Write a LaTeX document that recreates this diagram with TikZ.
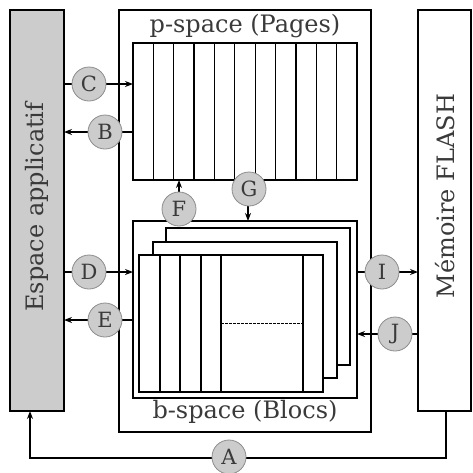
\documentclass[tikz,border=0pt]{standalone}
\usepackage{fontspec}
\setmainfont{DejaVu Serif}
\usetikzlibrary{arrows.meta}
\definecolor{txt}{HTML}{3A3A3A}
\definecolor{boxgray}{HTML}{CCCCCC}
\definecolor{circgray}{HTML}{CCCCCC}
\definecolor{circline}{HTML}{8C8C8C}
\begin{document}
\begin{tikzpicture}[x=1pt,y=-1pt,
  thickbox/.style={draw=black,line width=2.8pt},
  thin/.style={draw=black,line width=1.3pt},
  lbl/.style={circle,fill=circgray,draw=circline,line width=0.8pt,minimum size=34pt,inner sep=0pt,text=txt,font=\fontsize{21}{21}\selectfont},
  bigtxt/.style={text=txt,font=\fontsize{24}{24}\selectfont},
  arr/.style={line width=1.3pt,-{Stealth[length=8pt,width=6pt]}},
  con/.style={line width=1.3pt}]
\useasboundingbox (0,0) rectangle (473,472);
% boxes
\draw[thickbox,fill=boxgray] (10,10) rectangle (64,411);
\draw[thickbox] (119,10) rectangle (371,432);
\draw[thickbox] (418,10) rectangle (471,411);
\node[bigtxt,rotate=90] (app) at (37,207) {Espace applicatif};
\node[bigtxt,rotate=90] (flash) at (445,196) {Mémoire FLASH};
\node[bigtxt] (ptitle) at (245,26) {p-space (Pages)};
\node[bigtxt] (btitle) at (245,412) {b-space (Blocs)};
% pages
\draw[thin] (133,43) rectangle (357,180);
\foreach \i in {1,...,10} \draw[thin] ({133+\i*224/11},43) -- ({133+\i*224/11},180);
% b-space
\draw[thin] (133,221) rectangle (357,398);
\draw[thin,fill=white] (166,228) rectangle (350,365);
\draw[thin,fill=white] (153,242) rectangle (337,378);
\draw[thin,fill=white] (139,255) rectangle (323,392);
\foreach \x in {160,180,201,221,303} \draw[thin] (\x,255) -- (\x,392);
\draw[line width=1pt,dash pattern=on 2.5pt off 1.5pt] (221,323) -- (303,323);
% coordinates
\coordinate (Cl) at (64,84); \coordinate (Cr) at (133,84);
\coordinate (Bl) at (64,132); \coordinate (Br) at (133,132);
\coordinate (Dl) at (64,272); \coordinate (Dr) at (133,272);
\coordinate (El) at (64,320); \coordinate (Er) at (133,320);
\coordinate (Il) at (357,272); \coordinate (Ir) at (418,272);
\coordinate (Jl) at (357,334); \coordinate (Jr) at (418,334);
\coordinate (Ft) at (179,180); \coordinate (Gb) at (248,221);
\coordinate (As) at (446,411); \coordinate (Ac1) at (446,458); \coordinate (Ac2) at (30,458); \coordinate (Ae) at (30,411);
% connectors
\draw[con] (Cl) -- (89,84); \draw[arr] (89,84) -- (Cr);
\draw[arr] (Br) -- (Bl);
\draw[con] (Dl) -- (89,272); \draw[arr] (89,272) -- (Dr);
\draw[arr] (Er) -- (El);
\draw[con] (Il) -- (382,272); \draw[arr] (382,272) -- (Ir);
\draw[arr] (Jr) -- (Jl);
\draw[arr] (179,209) -- (Ft);
\draw[arr] (248,189) -- (Gb);
\draw[arr] (As) -- (Ac1) -- (Ac2) -- (Ae);
% labels
\node[lbl] (C) at (89,84) {C};
\node[lbl] (B) at (105,132) {B};
\node[lbl] (D) at (89,272) {D};
\node[lbl] (E) at (105,320) {E};
\node[lbl] (I) at (382,272) {I};
\node[lbl] (J) at (395,334) {J};
\node[lbl] (F) at (179,209) {F};
\node[lbl] (G) at (249,189) {G};
\node[lbl] (A) at (229,457) {A};
\end{tikzpicture}
\end{document}
